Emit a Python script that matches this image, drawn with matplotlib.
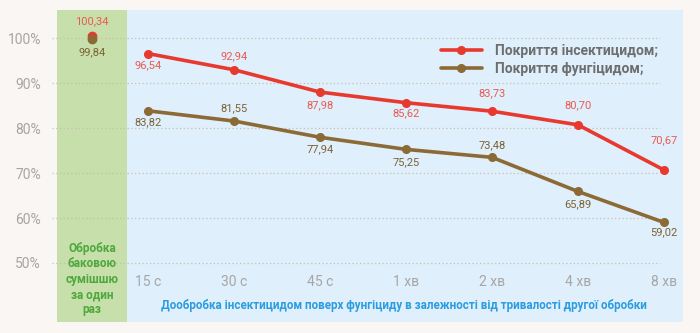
import numpy as np
import matplotlib
matplotlib.use("Agg")
import matplotlib.pyplot as plt

plt.rcParams['font.family'] = ['Roboto', 'DejaVu Sans']

# categories and series
times = ["15 с", "30 с", "45 с", "1 хв", "2 хв", "4 хв", "8 хв"]
insect = [96.54, 92.94, 87.98, 85.62, 83.73, 80.70, 70.67]
fungi = [83.82, 81.55, 77.94, 75.25, 73.48, 65.89, 59.02]
tank_insect = 100.34
tank_fungi = 99.84
yticks = [50, 60, 70, 80, 90, 100]

# vertical shift of value labels in px (negative = above the point)
insect_off = [12, -14, 13, 11, -18, -20, -30]
fungi_off = [11, -13, 12, 13, -12, 13, 10]

bg = "#f9f6f3"
red = "#e8392f"
red_txt = "#ea5a50"
brown = "#8c6a36"
brown_txt = "#7d6234"

W, H = 700, 333
fig = plt.figure(figsize=(7, 3.33), dpi=100, facecolor=bg)
# axes box in pixels: x 52..683, y 10..322
ax = fig.add_axes([52 / W, 1 - 322 / H, (683 - 52) / W, (322 - 10) / H])
ax.set_facecolor("none")

px0, step = 148, 86          # pixel x of first category and spacing
def xd(px):
    return (px - px0) / step

ax.set_xlim(xd(52), xd(683))
ax.set_ylim(100 - (322 - 38) / 4.5, 100 + (38 - 10) / 4.5)

ax.axvspan(xd(57), xd(127), color="#c6dfab", lw=0, zorder=0)
ax.axvspan(xd(127), xd(683), color="#dfeffc", lw=0, zorder=0)

ax.hlines(yticks, xd(52), xd(660), colors="#c9bfae", linestyles=(0, (1, 2)),
          lw=0.9, zorder=1)

x = np.arange(len(times))
ax.plot(x, insect, color=red, lw=2.6, marker="o", ms=5.5, zorder=3,
        solid_capstyle="round", label="Покриття інсектицидом;")
ax.plot(x, fungi, color=brown, lw=2.6, marker="o", ms=5.5, zorder=3,
        solid_capstyle="round", label="Покриття фунгіцидом;")

def fmt(v):
    return f"{v:.2f}".replace(".", ",")

def vlabel(xi, v, off, col):
    ax.annotate(fmt(v), (xi, v), xytext=(0, -off * 0.72),
                textcoords="offset points", ha="center", va="center",
                color=col, fontsize=8)

xg = xd(92)
ax.plot([xg], [tank_insect], "o", color=red, ms=6, zorder=3)
ax.plot([xg], [tank_fungi], "o", color=brown, ms=6, zorder=4)
vlabel(xg, tank_insect, -15, red_txt)
vlabel(xg, tank_fungi, 13, brown_txt)

for xi, v, o in zip(x, insect, insect_off):
    vlabel(xi, v, o, red_txt)
for xi, v, o in zip(x, fungi, fungi_off):
    vlabel(xi, v, o, brown_txt)

ax.set_yticks(yticks)
ax.set_yticklabels([f"{t}%" for t in yticks])
ax.set_xticks([])
ax.tick_params(axis="y", length=0, pad=8, labelsize=10, labelcolor="#a6a6a6")
for sp in ax.spines.values():
    sp.set_visible(False)

ybase = 100 - (282 - 38) / 4.5
for xi, t in zip(x, times):
    ax.text(xi, ybase, t, ha="center", va="center", color="#a6a6a6",
            fontsize=10)

ax.text(xg, 100 - (279 - 38) / 4.5, "Обробка\nбаковою\nсумішшю\nза один\nраз",
        ha="center", va="center", color="#4ea83c", fontsize=8.5,
        fontweight="bold", linespacing=1.25)
ax.text(xd(404), 100 - (306 - 38) / 4.5,
        "Дообробка інсектицидом поверх фунгіциду в залежності від тривалості другої обробки",
        ha="center", va="center", color="#2b9ce0", fontsize=8.4,
        fontweight="bold")

leg = ax.legend(loc="upper left", bbox_to_anchor=(428 / W, 1 - 31 / H),
                bbox_transform=fig.transFigure, frameon=False,
                handlelength=3.0, handletextpad=0.9, labelspacing=0.3,
                prop={"size": 10, "weight": "bold"})
for t in leg.get_texts():
    t.set_color("#6e6e6e")

fig.savefig("out.png", dpi=100, facecolor=bg)
